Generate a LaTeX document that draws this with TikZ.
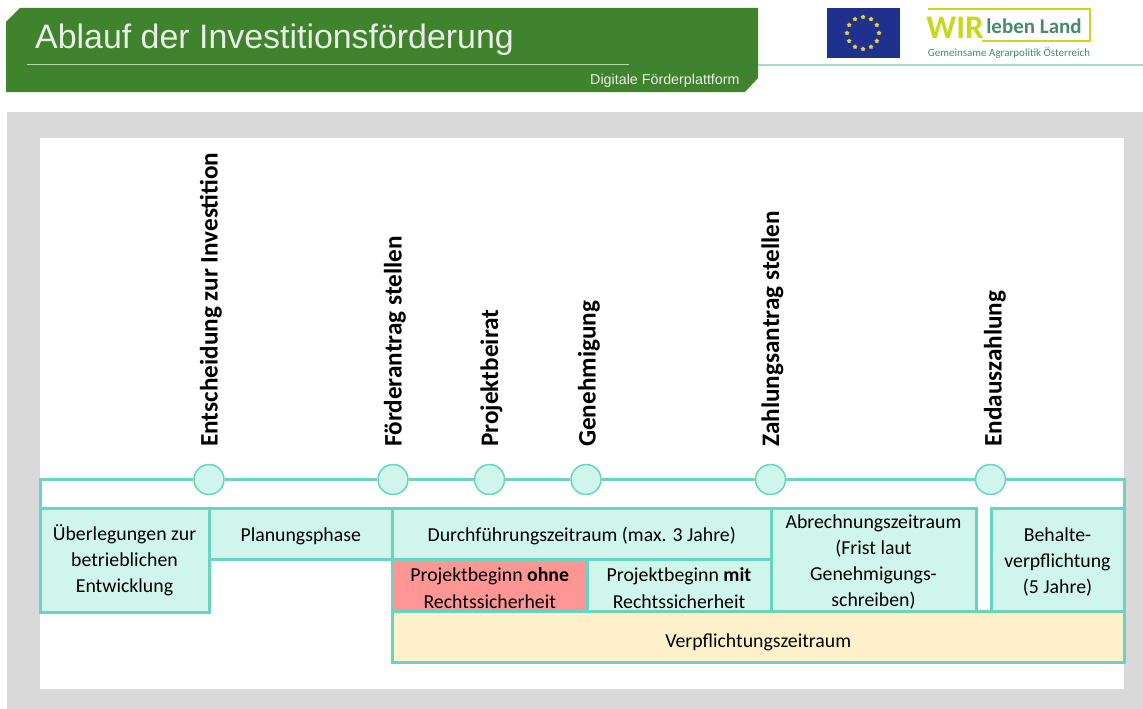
\documentclass[tikz,border=0pt]{standalone}
\usepackage{fontspec}
\setmainfont{Carlito}
\newfontfamily\headfont{Liberation Sans}
\usetikzlibrary{shapes.geometric}
\definecolor{headgreen}{HTML}{3F832C}
\definecolor{headline}{HTML}{A9DCC6}
\definecolor{paneltint}{HTML}{D9D9D9}
\definecolor{teal}{HTML}{69D5C0}
\definecolor{tealfill}{HTML}{CFF5EC}
\definecolor{riskred}{HTML}{FF9696}
\definecolor{dutyyellow}{HTML}{FFF0CC}
\definecolor{euBlue}{HTML}{20308F}
\definecolor{euStar}{HTML}{E0D040}
\definecolor{wirlime}{HTML}{C8D820}
\definecolor{wirgreen}{HTML}{4A8A68}
\newcommand{\lineroom}[1]{\rule{0pt}{#1pt}}
\begin{document}
\begin{tikzpicture}[x=1pt,y=-1pt]
        \tikzstyle{phase}=[rectangle,draw=teal,line width=3pt,fill=tealfill,inner sep=0pt,outer sep=0pt,align=center,font=\fontsize{19.8}{26}\selectfont]
        \tikzstyle{milestone}=[circle,draw=teal,line width=1.5pt,fill=tealfill,minimum size=30pt,inner sep=0pt]
        \tikzstyle{milelabel}=[rotate=90,anchor=west,inner sep=0pt,font=\fontsize{25.2}{30}\selectfont\bfseries]
        \tikzstyle{edge}=[draw=teal,line width=3pt,line join=miter]
        \tikzstyle{headtext}=[anchor=west,inner sep=0pt,text=white!92!black,font=\headfont]
        \useasboundingbox (0,0) rectangle (1143,709);
        % header
        \fill[headgreen] (6,22) -- (20,8) -- (758,8) -- (758,78) -- (745,92) -- (6,92) -- cycle;
        \draw[white!65!headgreen,line width=1pt] (27,65) -- (629,65);
        \draw[headgreen!70!teal!80!black,line width=1pt] (629,65) -- (758,65);
        \draw[headline,line width=1.5pt] (758,65) -- (1143,65);
        \node [headtext,font=\headfont\fontsize{33.9}{38}\selectfont] (title) at (35,40) {Ablauf der Investitionsförderung};
        \node [headtext,font=\headfont\fontsize{14.3}{16}\selectfont] (platform) at (590,81) {Digitale Förderplattform};
        % logos
        \fill[euBlue] (827,8) rectangle (900,58);
        \foreach \n in {0,30,...,330}
          \node [star,star points=5,fill=euStar,minimum size=5pt,inner sep=0pt] (star\n) at ({863+16*cos(\n)},{33+16*sin(\n)}) {};
        \draw[wirlime,line width=2pt] (928,9) -- (1090,9) -- (1090,41) -- (982,41);
        \node [inner sep=0pt,text=wirlime,font=\fontsize{33}{33}\selectfont\bfseries] (wir) at (955,28) {WIR};
        \node [inner sep=0pt,text=wirgreen,font=\fontsize{21}{22}\selectfont\bfseries] (land) at (1034,26) {leben Land};
        \node [inner sep=0pt,text=wirgreen,font=\fontsize{11}{12}\selectfont] (gap) at (1009,53) {Gemeinsame Agrarpolitik Österreich};
        % panel
        \fill[paneltint] (7,112) rectangle (1143,709);
        \fill[white] (39.5,138) rectangle (1123.5,689);
        % timeline
        \coordinate (tlleft) at (40,479.5);
        \coordinate (tlright) at (1124,479.5);
        \node [milestone] (m1) at (209,479.5) {};
        \node [milestone] (m2) at (393,479.5) {};
        \node [milestone] (m3) at (489.5,479.5) {};
        \node [milestone] (m4) at (586,479.5) {};
        \node [milestone] (m5) at (770.5,479.5) {};
        \node [milestone] (m6) at (990.5,479.5) {};
        \node [milelabel] (l1) at (211,447) {Entscheidung zur Investition};
        \node [milelabel] (l2) at (395,447) {Förderantrag stellen};
        \node [milelabel] (l3) at (491.5,447) {Projektbeirat};
        \node [milelabel] (l4) at (589,447) {Genehmigung};
        \node [milelabel] (l5) at (772.5,447) {Zahlungsantrag stellen};
        \node [milelabel] (l6) at (995,447) {Endauszahlung};
        % phases
        \node [phase,minimum width=169pt,minimum height=104pt] (p1) at (124.5,560) {Überlegungen zur\\betrieblichen\\Entwicklung};
        \node [phase,minimum width=183.5pt,minimum height=51pt] (p2) at (300.75,533.5) {\lineroom{18.5}Planungsphase};
        \node [phase,minimum width=378.5pt,minimum height=51pt] (p3) at (581.75,533.5) {\lineroom{19}Durchführungszeitraum (max. 3 Jahre)};
        \node [phase,fill=riskred,minimum width=194.5pt,minimum height=52pt] (p4) at (489.75,585) {\lineroom{21}Projektbeginn \textbf{ohne}\\[1pt]Rechtssicherheit};
        \node [phase,minimum width=184pt,minimum height=52pt] (p5) at (679,585) {\lineroom{21}Projektbeginn \textbf{mit}\\[1pt]Rechtssicherheit};
        \node [phase,minimum width=205pt,minimum height=103pt] (p6) at (873.5,559.5) {\lineroom{18.5}Abrechnungszeitraum\\(Frist laut\\Genehmigungs-\\schreiben)};
        \node [phase,minimum width=133pt,minimum height=103pt] (p7) at (1057.5,559.5) {\lineroom{18.5}Behalte-\\verpflichtung\\(5 Jahre)};
        \node [phase,fill=dutyyellow,minimum width=731.5pt,minimum height=51pt] (p8) at (758.25,636.5) {\lineroom{24.5}Verpflichtungszeitraum};
        \path[edge] (p1.north west) -- (tlleft) -- (m1);
        \path[edge] (m1) edge (m2);
        \path[edge] (m2) edge (m3);
        \path[edge] (m3) edge (m4);
        \path[edge] (m4) edge (m5);
        \path[edge] (m5) edge (m6);
        \path[edge] (m6) -- (tlright) -- (p8.south east);
\end{tikzpicture}
\end{document}
